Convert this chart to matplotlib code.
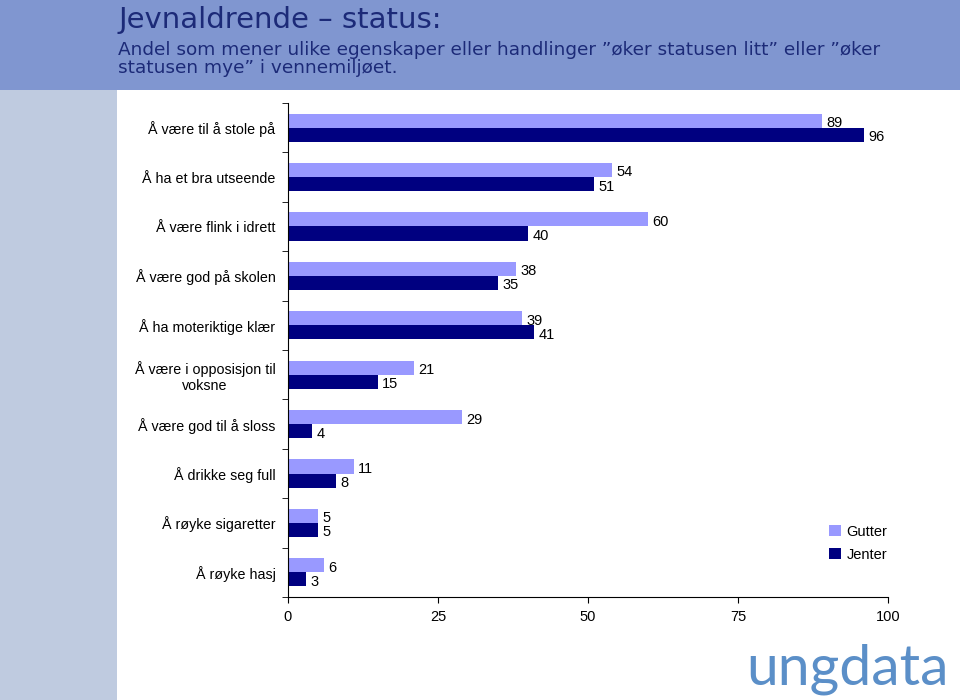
import matplotlib
matplotlib.use("Agg")
import matplotlib.pyplot as plt
import numpy as np
from matplotlib.patches import Rectangle

categories = [
    "Å være til å stole på",
    "Å ha et bra utseende",
    "Å være flink i idrett",
    "Å være god på skolen",
    "Å ha moteriktige klær",
    "Å være i opposisjon til\nvoksne",
    "Å være god til å sloss",
    "Å drikke seg full",
    "Å røyke sigaretter",
    "Å røyke hasj",
]
gutter = [89, 54, 60, 38, 39, 21, 29, 11, 5, 6]
jenter = [96, 51, 40, 35, 41, 15, 4, 8, 5, 3]
series_names = ["Gutter", "Jenter"]
x_ticks = [0, 25, 50, 75, 100]

title = "Jevnaldrende – status:"
subtitle = "Andel som mener ulike egenskaper eller handlinger \u201døker statusen litt\u201d eller \u201døker\nstatusen mye\u201d i vennemiljøet."

c_gutter = "#9999ff"
c_jenter = "#000080"

plt.rcParams["font.family"] = ["Liberation Sans", "DejaVu Sans"]

fig = plt.figure(figsize=(9.6, 7), dpi=100)
fig.patch.set_facecolor("white")

# background bands
fig.add_artist(Rectangle((0, 0.871), 1, 0.129, transform=fig.transFigure,
                         facecolor="#8096d0", edgecolor="none", zorder=0))
fig.add_artist(Rectangle((0, 0), 0.122, 0.871, transform=fig.transFigure,
                         facecolor="#bfcbe0", edgecolor="none", zorder=0))

fig.text(0.123, 0.992, title, fontsize=21, color="#1c2a78", va="top",
         family="DejaVu Sans")
fig.text(0.123, 0.942, subtitle, fontsize=13.3, color="#1c2a78", va="top",
         linespacing=1.05, family="DejaVu Sans")

ax = fig.add_axes([0.3, 0.147, 0.625, 0.706])
y = np.arange(len(categories))
h = 0.285
b1 = ax.barh(y - h / 2, gutter, height=h, color=c_gutter, label=series_names[0])
b2 = ax.barh(y + h / 2, jenter, height=h, color=c_jenter, label=series_names[1])
for bars, vals in ((b1, gutter), (b2, jenter)):
    for r, v in zip(bars, vals):
        ax.annotate(str(v), (v, r.get_y() + r.get_height() / 2 + 0.05),
                    xytext=(3, 0), textcoords="offset points",
                    va="center", ha="left", fontsize=10.5)

ax.set_xlim(0, 100)
ax.set_ylim(len(categories) - 0.5, -0.5)
ax.set_xticks(x_ticks)
ax.set_yticks(y)
ax.set_yticklabels(categories, multialignment="center")
ax.set_yticks(np.arange(-0.5, len(categories)), minor=True)
ax.tick_params(axis="y", which="major", length=0, pad=9, labelsize=10.3)
ax.tick_params(axis="y", which="minor", length=4, direction="out")
ax.tick_params(axis="x", length=4, pad=5, labelsize=10.5)
for s in ["top", "right"]:
    ax.spines[s].set_visible(False)

ax.legend(loc="lower left", bbox_to_anchor=(0.88, 0.045), frameon=False,
          fontsize=10.5, handlelength=0.8, handleheight=0.8, handletextpad=0.4,
          labelspacing=0.6)

# logo
fig.text(0.777, 0.022, "ungdata", fontsize=41, color="#5b8fc8", va="baseline",
         family=["Lato", "DejaVu Sans"])

fig.savefig("out.png", dpi=100)
